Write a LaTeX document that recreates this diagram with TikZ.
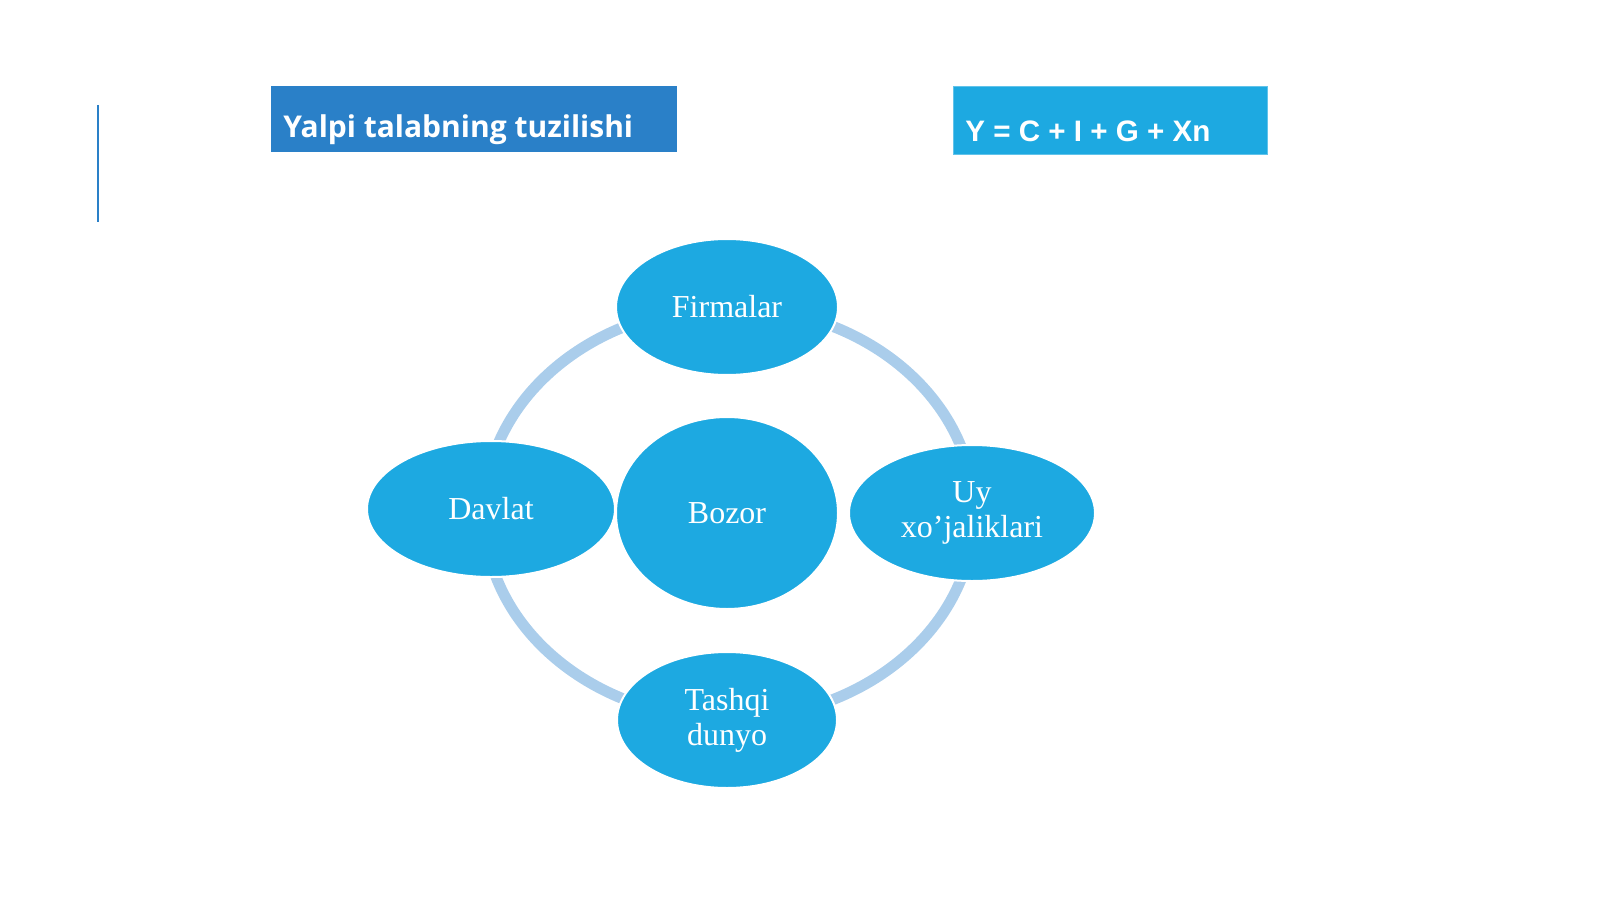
\documentclass[tikz,border=0pt]{standalone}
\usepackage{fontspec}
\setmainfont{Liberation Serif}
\newfontfamily\titlefont{Open Sans}
\newfontfamily\formfont{Liberation Sans}
\usetikzlibrary{shapes.geometric}
\definecolor{bubble}{HTML}{1DA9E1}
\definecolor{ringblue}{HTML}{AACDEB}
\definecolor{titleblue}{HTML}{2A80C8}
\tikzset{
  bubble/.style={draw=white, line width=1pt, fill=bubble, ellipse, inner sep=0pt,
    text=white, align=center, font=\fontsize{16}{17.5}\selectfont},
}
\begin{document}
\begin{tikzpicture}[x=0.5pt, y=-0.5pt]
        \useasboundingbox (0, 0) rectangle (1600, 899);
        \draw[titleblue, line width=1pt] (98, 105) -- (98, 222);

        \node[fill=titleblue, minimum width=203pt, minimum height=33pt, inner sep=0pt] (title) at (473.5, 119) {};
        \node[anchor=base west, text=white, font=\titlefont\bfseries\fontsize{15}{17}\selectfont, inner sep=0pt] (titletext) at (283, 138) {Yalpi talabning tuzilishi};

        \node[fill=bubble, draw=bubble!70!white, minimum width=157pt, minimum height=34pt, inner sep=0pt] (formula) at (1110, 120) {};
        \node[anchor=base west, text=white, font=\formfont\bfseries\fontsize{14.8}{16}\selectfont, inner sep=0pt] (formulatext) at (965, 141) {Y = C + I + G + Xn};

        \draw[ringblue, line width=5.5pt] (729, 513) ellipse [x radius=245, y radius=206];

        \node[bubble, minimum width=111pt, minimum height=68pt] (firmalar) at (727, 307) {Firmalar};
        \node[bubble, minimum width=124pt, minimum height=68pt] (davlat) at (491, 509) {Davlat};
        \node[bubble, minimum width=111pt, minimum height=96pt] (bozor) at (727, 513) {Bozor};
        \node[bubble, minimum width=123pt, minimum height=68pt] (uy) at (972, 513) {Uy\\xo’jaliklari};
        \node[bubble, minimum width=110pt, minimum height=68pt] (tashqi) at (727, 720) {Tashqi\\dunyo};
    \end{tikzpicture}
\end{document}
